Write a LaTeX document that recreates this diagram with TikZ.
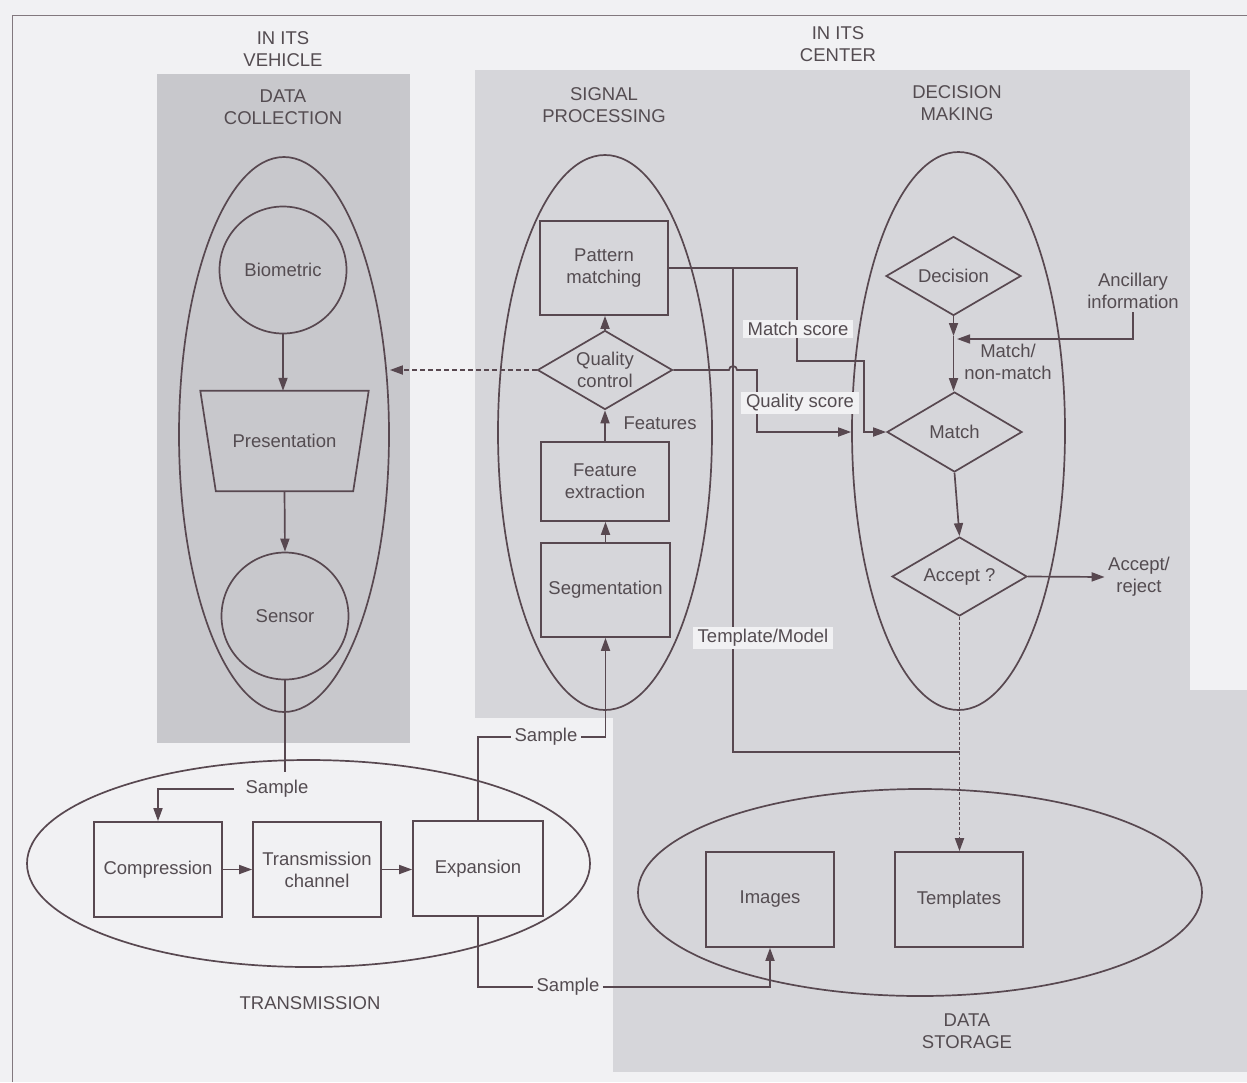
\documentclass[tikz,border=0pt]{standalone}
\usepackage{fontspec}
\setmainfont{Liberation Sans}
\usetikzlibrary{shapes.geometric,arrows.meta}
\definecolor{ink}{RGB}{88,72,80}
\definecolor{txt}{RGB}{84,76,81}
\definecolor{paper}{RGB}{241,241,243}
\definecolor{panelA}{RGB}{200,200,204}
\definecolor{panelB}{RGB}{214,214,218}
\definecolor{framec}{RGB}{130,120,126}
\begin{document}
\begin{tikzpicture}[x=1pt,y=-1pt,
  font=\fontsize{18.5}{22}\selectfont,
  every node/.style={text=txt},
  line/.style={draw=ink, line width=1.7pt},
  arr/.style={line, -{Triangle[length=13pt,width=9pt]}},
  oval/.style={ellipse, draw=ink, line width=1.7pt, inner sep=0pt},
  box/.style={draw=ink, line width=1.7pt, minimum width=128pt, minimum height=95pt, align=center, inner sep=0pt},
  dia/.style={diamond, draw=ink, line width=1.7pt, minimum width=135pt, minimum height=79pt, shape aspect=1.7, inner sep=0pt, align=center},
  rnd/.style={circle, draw=ink, line width=1.7pt, minimum size=127pt, inner sep=0pt},
  lab/.style={fill=paper, inner xsep=5pt, inner ysep=2pt},
  ttl/.style={align=center}]
% background and panels
\fill[paper] (0,0) rectangle (1247,1082);
\useasboundingbox (0,0) rectangle (1247,1082);
\fill[panelA] (157,74) rectangle (410,743);
\fill[panelB] (475,70) rectangle (1190,690);
\fill[panelB] (475,690) rectangle (613,718);
\fill[panelB] (613,690) rectangle (1247,1072);
\draw[framec, line width=1pt] (12,1082) -- (12,15) -- (1247,15);

% titles
\node[ttl] (tveh) at (283,49) {IN ITS\\VEHICLE};
\node[ttl] (tdc) at (283,107) {DATA\\COLLECTION};
\node[ttl] (tsp) at (604,105) {SIGNAL\\PROCESSING};
\node[ttl] (tcen) at (838,44) {IN ITS\\CENTER};
\node[ttl] (tdm) at (957,103) {DECISION\\MAKING};
\node[ttl] (ttr) at (310,1003) {TRANSMISSION};
\node[ttl] (tds) at (967,1031) {DATA\\STORAGE};

% ellipses
\node[oval, minimum width=210pt, minimum height=555pt] (dce) at (284,434.5) {};
\node[oval, minimum width=214pt, minimum height=555pt] (spe) at (605,432.5) {};
\node[oval, minimum width=213pt, minimum height=558pt] (dme) at (958.5,431) {};
\node[oval, minimum width=563pt, minimum height=207pt] (tre) at (308.5,863.5) {};
\node[oval, minimum width=564pt, minimum height=207pt] (dse) at (920,892.5) {};

% data collection
\node[rnd] (bio) at (283,270) {Biometric};
\node[minimum width=168pt, minimum height=100pt, inner sep=0pt] (pres) at (284.5,441) {Presentation};
\draw[line] (pres.north west) -- (pres.north east) -- ([xshift=-15.5pt]pres.south east) -- ([xshift=15.5pt]pres.south west) -- cycle;
\node[rnd] (sen) at (285,616) {Sensor};
\draw[arr] (bio.south) -- (bio.south |- pres.north);
\draw[arr] (pres.south) -- (sen.north);

% transmission
\node[box] (comp) at (158,869.5) {Compression};
\node[box] (tch) at (317,869.5) {Transmission\\channel};
\node[box, minimum width=130pt] (exp) at (478,868.5) {Expansion};
\draw[arr] (comp.east) -- (tch.west);
\draw[arr] (tch.east) -- (tch.east -| exp.west);
\coordinate (s1) at (285,772);
\draw[line] (sen.south) -- (s1);
\node (smp1) at (277,789) {Sample};
\draw[arr] ([xshift=-8pt]smp1.west) -| (comp.north);

% signal processing
\node[box, minimum height=94pt] (pm) at (604,268) {Pattern\\matching};
\node[dia] (qc) at (605,370) {Quality\\control};
\node[box, minimum height=79pt] (fe) at (605,481.5) {Feature\\extraction};
\node[box, minimum width=129pt, minimum height=94pt] (seg) at (605.5,590) {Segmentation};
\draw[arr] (seg.north) -- (seg.north |- fe.south);
\draw[arr] (fe.north) -- (qc.south);
\draw[arr] (qc.north) -- (qc.north |- pm.south);
\node (feat) at (660,423) {Features};
\draw[arr, dash pattern=on 5pt off 3pt] (qc.west) -- (qc.west -| dce.east);

\node (smp2) at (546,737) {Sample};
\draw[line] (exp.north) |- (smp2.west);
\draw[arr] (smp2.east) -| (seg.south);

% decision making
\node[dia] (dec) at (953.5,276) {Decision};
\node[dia, minimum height=80pt] (match) at (954.5,432) {Match};
\node[dia] (acc) at (959.5,576.5) {Accept ?};
\node[ttl] (anc) at (1133,291) {Ancillary\\information};
\node[ttl] (mnm) at (1008,362) {Match/\\non-match};
\node[ttl] (ar) at (1139,577) {Accept/\\reject};
\coordinate (j1) at (953.5,336);
\coordinate (jA) at (957,339);
\draw[arr] (dec.south) -- (j1);
\draw[arr] (j1) -- (j1 |- match.north);
\draw[arr] (anc.south) |- (jA);
\draw[arr] (match.south) -- (acc.north);
\draw[arr] (acc.east) -- (ar.west);

% storage
\node[box] (img) at (770,899.5) {Images};
\node[box] (tpl) at (959,899.5) {Templates};
\draw[arr, dash pattern=on 3pt off 2pt] (acc.south) -- (acc.south |- tpl.north);
\node (smp3) at (568,987) {Sample};
\draw[line] (exp.south) |- (smp3.west);
\draw[arr] (smp3.east) -| (img.south);

% cross connections
\coordinate (jt) at (733,268);
\draw[arr] (pm.east) -| (797,361) -| (864,432) -- (match.west);
\draw[line] (jt) |- (acc.south |- 0,752);
\draw[arr] (qc.east) -- (729,370) arc[start angle=180, end angle=0, radius=4pt] -| (757,432) -- (dme.west |- 0,432);

% labels on lines
\node[lab] (ms) at (798,329) {Match score};
\node[lab] (qs) at (800,403) {Quality score};
\node[lab] (tm) at (763,638) {Template/Model};
\end{tikzpicture}
\end{document}
